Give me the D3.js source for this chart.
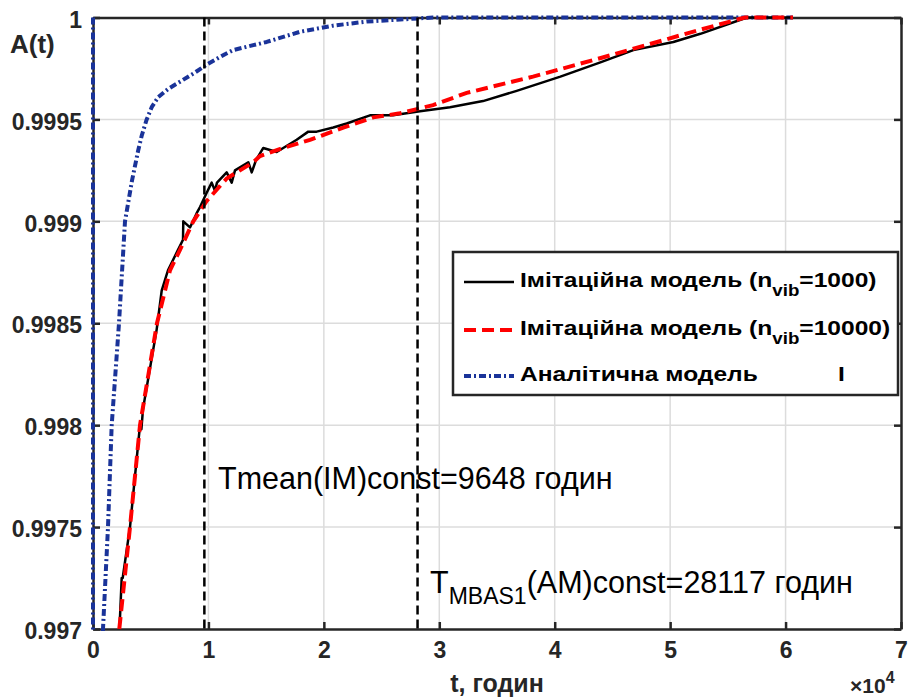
<!DOCTYPE html>
<html>
<head>
<meta charset="utf-8">
<script src="https://cdn.jsdelivr.net/npm/d3@7"></script>
<style>
  body { margin: 0; background: #fff; }
  text { font-family: "Liberation Sans", Arial, sans-serif; }
</style>
</head>
<body>
<div id="chart"></div>
<script>
// simulation model, n_vib = 1000 (black solid)
const sim1000T = [2296, 2486, 2573, 3205, 4072, 4193, 4332, 5518, 5951, 6497, 7364, 7797, 7823, 8403, 8983,
  9269, 9850, 10283, 10569, 10742, 11582, 12016, 12302, 13454, 13749, 14121, 14753, 15334, 15914, 17647,
  18651, 19379, 20817, 21978, 23997, 25989, 28328, 30927, 33786, 36705, 40490, 43955, 46814, 50280,
  52619, 56656, 60641];
const sim1000A = [0.99700, 0.99725, 0.99725, 0.99750, 0.99800, 0.99798, 0.99808, 0.99847, 0.99866, 0.99876,
  0.99886, 0.99891, 0.99900, 0.99897, 0.99904, 0.99907, 0.99914, 0.99919, 0.99915, 0.99919, 0.99924,
  0.99919, 0.99925, 0.99929, 0.99924, 0.99930, 0.99936, 0.99935, 0.99934, 0.99940, 0.99944, 0.99944,
  0.99946, 0.99948, 0.99952, 0.99952, 0.99954, 0.99956, 0.99959, 0.99964, 0.99971, 0.99978, 0.99984,
  0.99988, 0.99992, 1.0, 1.0];

// simulation model, n_vib = 10000 (red dashed)
const sim10000T = [2278, 3205, 4072, 5544, 6671, 7537, 8689, 9850, 11582, 13887, 14467, 16486, 18799,
  21684, 24283, 26596, 29454, 32374, 38117, 43921, 48253, 52584, 56482, 60641];
const sim10000A = [0.99700, 0.99750, 0.99800, 0.99850, 0.99876, 0.99886, 0.99900, 0.99910, 0.99921,
  0.99929, 0.99932, 0.99936, 0.99940, 0.99946, 0.99951, 0.99953, 0.99957, 0.99963, 0.99971, 0.99980,
  0.99987, 0.99994, 1.0, 1.0];

// analytical model (blue dash-dot)
const analyticT = [0, 0, 866, 1299, 1620, 2252, 2772, 3378, 3924, 4219, 4652, 5085, 5657, 6523, 7684,
  8836, 9876, 11435, 12128, 15048, 17933, 20792, 23711, 26600, 29454, 35258, 60641];
const analyticA = [1.0, 0.9950, 0.99700, 0.99750, 0.99800, 0.99850, 0.99900, 0.99920, 0.99935, 0.99942,
  0.99950, 0.99956, 0.99961, 0.99965, 0.99969, 0.99973, 0.99977, 0.99982, 0.99984, 0.99988, 0.99993,
  0.99996, 0.99998, 0.99999, 1.0, 1.0, 1.0];

const xTicks = [0, 10000, 20000, 30000, 40000, 50000, 60000, 70000];
const xTickLabels = ["0", "1", "2", "3", "4", "5", "6", "7"];
const yTicks = [0.997, 0.9975, 0.998, 0.9985, 0.999, 0.9995, 1];
const yTickLabels = ["0.997", "0.9975", "0.998", "0.9985", "0.999", "0.9995", "1"];
const markerT = [9648, 28117];

const width = 915;
const height = 699;
const plotLeft = 93, plotRight = 901, plotTop = 17.5, plotBottom = 629;
const axisColor = "#262626";

const x = d3.scaleLinear().domain([0, 70000]).range([plotLeft, plotRight]);
const y = d3.scaleLinear().domain([0.997, 1]).range([plotBottom, plotTop]);

const svg = d3.select("#chart")
  .append("svg")
  .attr("width", width)
  .attr("height", height)
  .attr("viewBox", [0, 0, width, height]);

svg.append("defs").append("clipPath")
    .attr("id", "clip")
  .append("rect")
    .attr("x", plotLeft - 3)
    .attr("y", plotTop - 3)
    .attr("width", plotRight - plotLeft + 6)
    .attr("height", plotBottom - plotTop + 6);

// grid
const grid = svg.append("g")
    .attr("stroke", "#dcdcdc")
    .attr("stroke-width", 1.5);
grid.selectAll("line.gx")
  .data(xTicks.slice(1, -1))
  .join("line")
    .attr("class", "gx")
    .attr("x1", d => x(d)).attr("x2", d => x(d))
    .attr("y1", plotTop).attr("y2", plotBottom);
grid.selectAll("line.gy")
  .data(yTicks.slice(1, -1))
  .join("line")
    .attr("class", "gy")
    .attr("x1", plotLeft).attr("x2", plotRight)
    .attr("y1", d => y(d)).attr("y2", d => y(d));

// axes: bottom/left with labels, top/right ticks only
const tickLen = 7;
const fmtX = (d, i) => xTickLabels[i];
const fmtY = (d, i) => yTickLabels[i];

function styleAxis(g) {
  g.select(".domain").attr("stroke", axisColor).attr("stroke-width", 2.5);
  g.selectAll(".tick line").attr("stroke", axisColor).attr("stroke-width", 2.5);
  g.selectAll(".tick text")
    .attr("fill", "#262626")
    .attr("font-weight", "bold")
    .attr("font-size", 23)
    .attr("font-family", "'Liberation Sans', Arial, sans-serif");
}

svg.append("g")
    .attr("transform", `translate(0,${plotBottom})`)
    .call(d3.axisBottom(x).tickValues(xTicks).tickFormat(fmtX)
      .tickSizeInner(-tickLen).tickSizeOuter(0).tickPadding(13))
    .call(styleAxis);

svg.append("g")
    .attr("transform", `translate(0,${plotTop})`)
    .call(d3.axisTop(x).tickValues(xTicks).tickFormat("")
      .tickSizeInner(-tickLen).tickSizeOuter(0))
    .call(styleAxis);

svg.append("g")
    .attr("transform", `translate(${plotLeft},0)`)
    .call(d3.axisLeft(y).tickValues(yTicks).tickFormat(fmtY)
      .tickSizeInner(-tickLen).tickSizeOuter(0).tickPadding(11))
    .call(styleAxis)
    .call(g => g.selectAll(".tick text").attr("dy", "0.42em"));

svg.append("g")
    .attr("transform", `translate(${plotRight},0)`)
    .call(d3.axisRight(y).tickValues(yTicks).tickFormat("")
      .tickSizeInner(-tickLen).tickSizeOuter(0))
    .call(styleAxis);

// curves
const plot = svg.append("g").attr("clip-path", "url(#clip)");

const line = d3.line()
  .x(d => x(d[0]))
  .y(d => y(d[1]));

plot.append("path")
    .datum(d3.zip(analyticT, analyticA))
    .attr("fill", "none")
    .attr("stroke", "#1a3399")
    .attr("stroke-width", 4)
    .attr("stroke-dasharray", "7,3,2,3")
    .attr("stroke-linejoin", "round")
    .attr("d", line);

plot.append("path")
    .datum(d3.zip(sim1000T, sim1000A))
    .attr("fill", "none")
    .attr("stroke", "#000")
    .attr("stroke-width", 2.5)
    .attr("stroke-linejoin", "round")
    .attr("d", line);

plot.append("path")
    .datum(d3.zip(sim10000T, sim10000A))
    .attr("fill", "none")
    .attr("stroke", "#ff0000")
    .attr("stroke-width", 4)
    .attr("stroke-dasharray", "12,6")
    .attr("d", line);

// vertical marker lines
svg.append("g")
  .selectAll("line")
  .data(markerT)
  .join("line")
    .attr("x1", d => x(d)).attr("x2", d => x(d))
    .attr("y1", plotTop).attr("y2", plotBottom)
    .attr("stroke", "#000")
    .attr("stroke-width", 2.5)
    .attr("stroke-dasharray", "9,5");

// annotations
svg.append("text")
    .attr("x", 218).attr("y", 489)
    .attr("font-size", 30.5)
    .text("Tmean(IM)const=9648 годин");

const t2 = svg.append("text")
    .attr("x", 430).attr("y", 593)
    .attr("font-size", 30.5);
t2.append("tspan").text("T");
t2.append("tspan").attr("font-size", 23).attr("dy", 11).text("MBAS1");
t2.append("tspan").attr("dy", -11).text("(AM)const=28117 годин");

// axis labels
svg.append("text")
    .attr("x", 10).attr("y", 53)
    .attr("font-size", 26)
    .attr("font-weight", "bold")
    .attr("fill", "#262626")
    .text("A(t)");

svg.append("text")
    .attr("x", (plotLeft + plotRight) / 2).attr("y", 692)
    .attr("text-anchor", "middle")
    .attr("font-size", 25)
    .attr("font-weight", "bold")
    .attr("fill", "#262626")
    .text("t, годин");

const exp = svg.append("text")
    .attr("x", 850).attr("y", 693)
    .attr("font-size", 21)
    .attr("font-weight", "bold")
    .attr("fill", "#262626");
exp.append("tspan").text("×10");
exp.append("tspan").attr("font-size", 16).attr("dy", -10).text("4");

// legend
const legend = svg.append("g");
legend.append("rect")
    .attr("x", 453).attr("y", 252)
    .attr("width", 445).attr("height", 143)
    .attr("fill", "#fff")
    .attr("stroke", axisColor)
    .attr("stroke-width", 2.5);

const legendItems = [
  { color: "#000", width: 2.5, dash: null, main: "Імітаційна модель (n", sub: "vib", rest: "=1000)" },
  { color: "#ff0000", width: 4, dash: "12,6", main: "Імітаційна модель (n", sub: "vib", rest: "=10000)" },
  { color: "#1a3399", width: 4, dash: "7,3,2,3", main: "Аналітична модель", sub: "", rest: "" }
];
const rowY = [282, 330, 376];

legendItems.forEach((d, i) => {
  legend.append("line")
      .attr("x1", 464).attr("x2", 514)
      .attr("y1", rowY[i]).attr("y2", rowY[i])
      .attr("stroke", d.color)
      .attr("stroke-width", d.width)
      .attr("stroke-dasharray", d.dash);
  const t = legend.append("text")
      .attr("transform", `translate(520,${rowY[i] + 5}) scale(1.17,1)`)
      .attr("font-size", 21)
      .attr("font-weight", "bold");
  t.append("tspan").text(d.main);
  if (d.sub) {
    t.append("tspan").attr("font-size", 16).attr("dy", 9).text(d.sub);
    t.append("tspan").attr("dy", -9).text(d.rest);
  }
});

legend.append("text")
    .attr("transform", `translate(838,${rowY[2] + 5}) scale(1.17,1)`)
    .attr("font-size", 21)
    .attr("font-weight", "bold")
    .text("I");
</script>
</body>
</html>
